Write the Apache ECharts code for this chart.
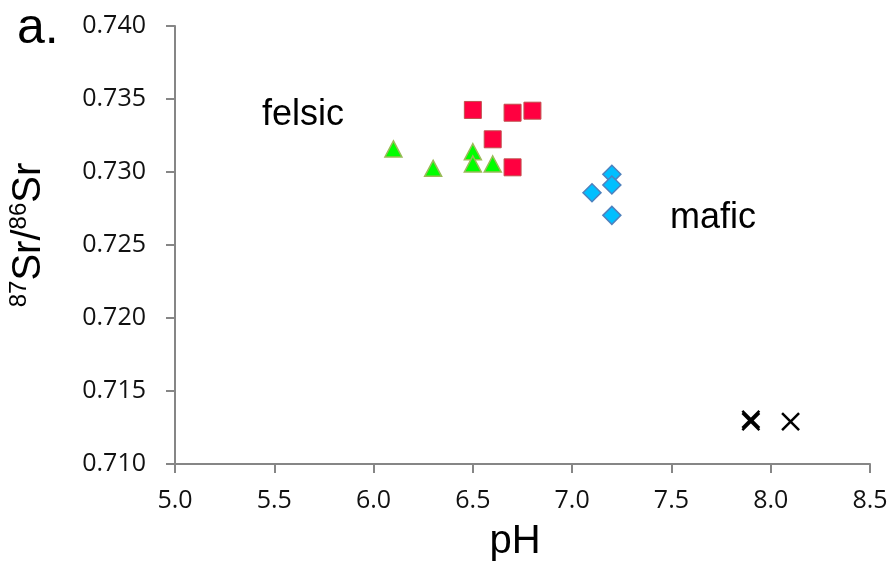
<!DOCTYPE html>
<html>
<head>
<meta charset="utf-8">
<script src="https://cdn.jsdelivr.net/npm/echarts@6/dist/echarts.min.js"></script>
<style>html,body{margin:0;padding:0;background:#fff;}#c{width:894px;height:572px;}</style>
</head>
<body>
<div id="c"></div>
<script>
// Data
const felsicSquares = [[6.5, 0.73425], [6.7, 0.73406], [6.8, 0.7342], [6.6, 0.73224], [6.7, 0.73032]];
const felsicTriangles = [[6.1, 0.73158], [6.3, 0.73025], [6.5, 0.73139], [6.5, 0.73055], [6.6, 0.73055]];
const maficDiamonds = [[7.2, 0.72984], [7.2, 0.72911], [7.1, 0.72858], [7.2, 0.72703]];
const crosses = [[7.9, 0.71305], [7.9, 0.7129], [8.1, 0.7129]];
const xTicks = { min: 5.0, max: 8.5, interval: 0.5 };
const yTicks = { min: 0.710, max: 0.740, interval: 0.005 };

const chart = echarts.init(document.getElementById('c'), null, { renderer: 'canvas' });
const axisGray = '#868686';
const labelFont = '"Open Sans", sans-serif';
const option = {
  backgroundColor: '#ffffff',
  animation: false,
  grid: { left: 175, right: 24, top: 26, bottom: 108 },
  xAxis: {
    type: 'value', min: xTicks.min, max: xTicks.max, interval: xTicks.interval,
    axisLine: { show: true, onZero: false, lineStyle: { color: axisGray, width: 2 } },
    axisTick: { show: true, length: 9, lineStyle: { color: axisGray, width: 2 } },
    splitLine: { show: false },
    axisLabel: { color: '#111', fontSize: 25, fontFamily: labelFont, margin: 24,
      formatter: v => v.toFixed(1) }
  },
  yAxis: {
    type: 'value', min: yTicks.min, max: yTicks.max, interval: yTicks.interval,
    axisLine: { show: true, onZero: false, lineStyle: { color: axisGray, width: 2 } },
    axisTick: { show: true, length: 9, lineStyle: { color: axisGray, width: 2 } },
    splitLine: { show: false },
    axisLabel: { color: '#111', fontSize: 25, fontFamily: labelFont, margin: 29,
      formatter: v => v.toFixed(3) }
  },
  series: [
    { type: 'scatter', data: felsicSquares, symbol: 'rect', symbolSize: 17,
      itemStyle: { color: '#FF0040', borderColor: '#C0504D', borderWidth: 1, opacity: 1 } },
    { type: 'scatter', data: felsicTriangles, symbol: 'triangle', symbolSize: [17, 16],
      itemStyle: { color: '#00FF00', borderColor: '#9BBB59', borderWidth: 1.5, opacity: 1 } },
    { type: 'scatter', data: maficDiamonds, symbol: 'diamond', symbolSize: 18,
      itemStyle: { color: '#00BFFF', borderColor: '#4F81BD', borderWidth: 1.5, opacity: 1 } },
    { type: 'scatter', data: crosses, symbol: 'path://M0,0L10,10M10,0L0,10', symbolSize: 17,
      itemStyle: { color: 'none', borderColor: '#000', borderWidth: 2.5, opacity: 1 } }
  ],
  graphic: [
    { type: 'text', left: 17, top: 4, style: { text: 'a.', font: '50px "Liberation Sans", Arial, sans-serif', fill: '#000' } },
    { type: 'text', left: 262, top: 97, style: { text: 'felsic', font: '36px "Liberation Sans", Arial, sans-serif', fill: '#000' } },
    { type: 'text', left: 670, top: 200, style: { text: 'mafic', font: '36px "Liberation Sans", Arial, sans-serif', fill: '#000' } },
    { type: 'text', x: 515, y: 542, style: { text: 'pH', font: '40px "Liberation Sans", Arial, sans-serif', fill: '#000', align: 'center', verticalAlign: 'middle' } },
    { type: 'text', x: 29, y: 235, rotation: Math.PI / 2,
      style: {
        text: '{s|87}{m|Sr/}{s|86}{m|Sr}', align: 'center', verticalAlign: 'middle', fill: '#000',
        rich: {
          m: { fontSize: 40, fontFamily: '"Liberation Sans", Arial, sans-serif', lineHeight: 44 },
          s: { fontSize: 24, fontFamily: '"Liberation Sans", Arial, sans-serif', lineHeight: 26, verticalAlign: 'top' }
        }
      } }
  ]
};
chart.setOption(option);
</script>
</body>
</html>
